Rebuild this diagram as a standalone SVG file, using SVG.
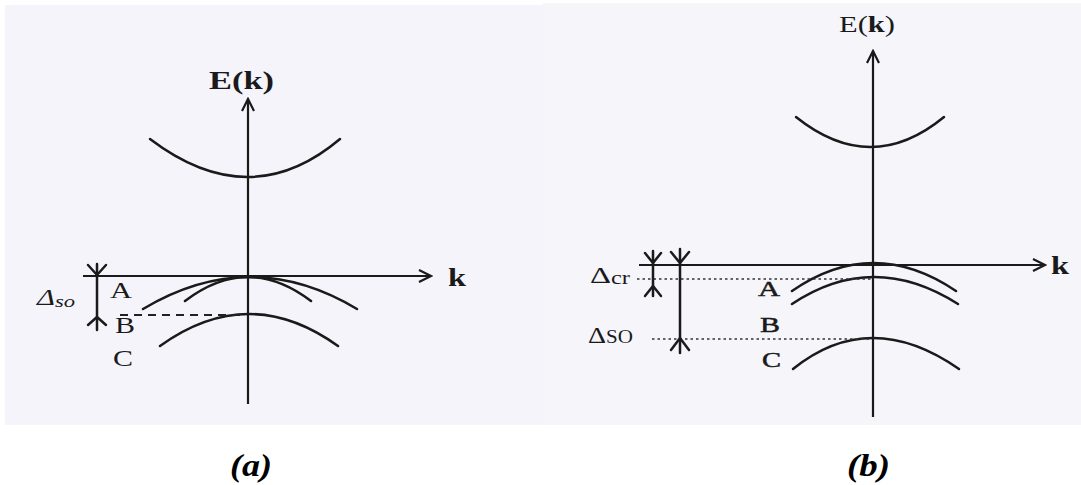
<svg xmlns="http://www.w3.org/2000/svg" width="1081" height="485" viewBox="0 0 1081 485">
<defs>
<style>
.ln{fill:none;stroke:#1a1a1a;stroke-width:2.5;stroke-linecap:round}
.ax{fill:none;stroke:#1a1a1a;stroke-width:2.2}
.dash{fill:none;stroke:#222;stroke-width:1.8;stroke-dasharray:8 6}
.dot{fill:none;stroke:#333;stroke-width:1.4;stroke-dasharray:2.5 3}
.t{font-family:"Liberation Serif",serif;fill:#1a1a1a}
.b{font-weight:bold}
.cap{font-family:"Liberation Serif",serif;font-weight:bold;font-style:italic;font-size:31px;fill:#000}
</style>
<marker id="arr" viewBox="0 0 16 16" refX="14" refY="8" markerWidth="16" markerHeight="16" markerUnits="userSpaceOnUse" orient="auto">
<path d="M2,2 L14,8 L2,14" fill="none" stroke="#1a1a1a" stroke-width="2.2"/>
</marker>
</defs>
<rect width="1081" height="485" fill="#ffffff"/>
<rect x="5" y="5" width="538" height="420" fill="#f4f4fa"/>
<rect x="543" y="3" width="538" height="422" fill="#f5f5fa"/>

<g id="panel-a">
<g id="axes-a">
<line class="ax" x1="248" y1="404" x2="248" y2="99" marker-end="url(#arr)"/>
<line class="ax" x1="83" y1="276" x2="431" y2="276" marker-end="url(#arr)"/>
<text class="t b" x="209" y="89" font-size="25" textLength="65" lengthAdjust="spacingAndGlyphs">E(k)</text>
<text class="t b" x="448" y="286" font-size="26" textLength="18" lengthAdjust="spacingAndGlyphs">k</text>
</g>
<g id="bands-a">
<path class="ln" d="M150,139 Q250,215 340,139"/>
<path class="ln" d="M143,309 Q250,245 357,309"/>
<path class="ln" d="M185,301 Q248,253 311,301"/>
<path class="ln" d="M160,346 Q249,282 338,346"/>
</g>
<g id="delta-so-a">
<line class="dash" x1="120" y1="315" x2="244" y2="315"/>
<line class="ln" x1="97" y1="264" x2="97" y2="330"/>
<path class="ln" d="M88,265 L97,275 L106,265"/>
<path class="ln" d="M88,325 L97,317 L106,325"/>
<text class="t" x="37" y="305" font-size="23" font-style="italic" textLength="38" lengthAdjust="spacingAndGlyphs">Δ<tspan font-size="17" dy="2">so</tspan></text>
</g>
<g id="labels-a">
<text class="t" x="110" y="298" font-size="23" textLength="22" lengthAdjust="spacingAndGlyphs">A</text>
<text class="t" x="115" y="333" font-size="23" textLength="20" lengthAdjust="spacingAndGlyphs">B</text>
<text class="t" x="113" y="366" font-size="23" textLength="20" lengthAdjust="spacingAndGlyphs">C</text>
</g>
</g>

<g id="panel-b">
<g id="axes-b">
<line class="ax" x1="873" y1="417" x2="873" y2="51" marker-end="url(#arr)"/>
<line class="ax" x1="639" y1="265" x2="1045" y2="265" marker-end="url(#arr)"/>
<text class="t" x="839" y="32" font-size="24" textLength="56" lengthAdjust="spacingAndGlyphs">E(<tspan font-weight="bold">k</tspan>)</text>
<text class="t b" x="1051" y="274" font-size="26" textLength="18" lengthAdjust="spacingAndGlyphs">k</text>
</g>
<g id="bands-b">
<path class="ln" d="M796,117 Q871,177 944,117"/>
<path class="ln" d="M792,291 Q873,235 956,291"/>
<path class="ln" d="M792,304 Q873,250 958,304"/>
<path class="ln" d="M793,369 Q870,307 959,369"/>
</g>
<g id="delta-cr-b">
<line class="dot" x1="637" y1="279" x2="872" y2="279"/>
<line class="ln" x1="653" y1="251" x2="653" y2="296"/>
<path class="ln" d="M645,253 L653,263 L661,253"/>
<path class="ln" d="M645,296 L653,286 L661,296"/>
<text class="t" x="590" y="283" font-size="24" textLength="40" lengthAdjust="spacingAndGlyphs">Δ<tspan font-size="18" dy="1">cr</tspan></text>
</g>
<g id="delta-so-b">
<line class="dot" x1="652" y1="339" x2="872" y2="339"/>
<line class="ln" x1="680" y1="249" x2="680" y2="353"/>
<path class="ln" d="M671,252 L680,263 L689,252"/>
<path class="ln" d="M671,350 L680,338 L689,350"/>
<text class="t" x="588" y="343" font-size="24" textLength="45" lengthAdjust="spacingAndGlyphs">Δ<tspan font-size="18">SO</tspan></text>
</g>
<g id="labels-b">
<text class="t" x="758" y="296" font-size="22" stroke="#1a1a1a" stroke-width="0.5" textLength="22" lengthAdjust="spacingAndGlyphs">A</text>
<text class="t" x="760" y="332" font-size="22" stroke="#1a1a1a" stroke-width="0.5" textLength="20" lengthAdjust="spacingAndGlyphs">B</text>
<text class="t" x="762" y="367" font-size="22" stroke="#1a1a1a" stroke-width="0.5" textLength="19" lengthAdjust="spacingAndGlyphs">C</text>
</g>
</g>

<g id="captions">
<text class="cap" x="230" y="476" textLength="42" lengthAdjust="spacingAndGlyphs">(a)</text>
<text class="cap" x="847" y="476" textLength="43" lengthAdjust="spacingAndGlyphs">(b)</text>
</g>
</svg>
